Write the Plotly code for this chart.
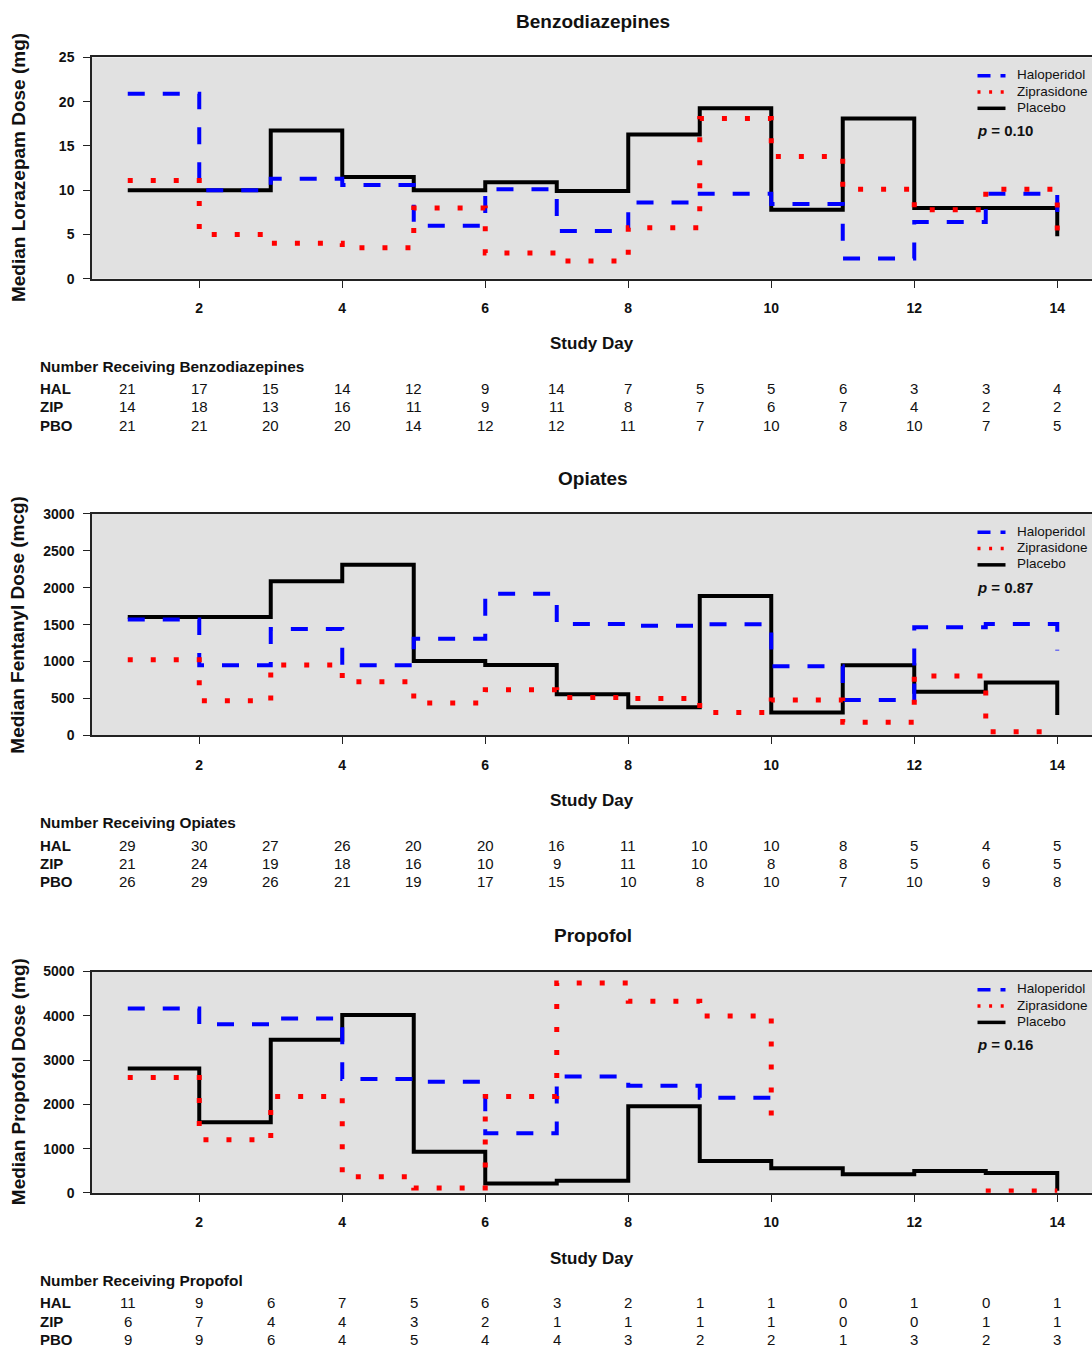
import plotly.graph_objects as go

# ---------------- data ----------------
days = list(range(1, 15))
tick_days = [2, 4, 6, 8, 10, 12, 14]

benzo_hal = [20.9, 10.0, 11.3, 10.6, 6.0, 10.1, 5.4, 8.6, 9.6, 8.45, 2.3, 6.4, 9.6, 6.0]
benzo_zip = [11.1, 5.0, 4.0, 3.5, 8.0, 2.9, 2.0, 5.75, 18.1, 13.8, 10.1, 7.8, 10.1, 5.3]
benzo_pbo = [10.0, 10.0, 16.75, 11.5, 10.0, 10.9, 9.9, 16.3, 19.25, 7.8, 18.1, 8.0, 8.0, 4.8]

opi_hal = [1570, 950, 1440, 950, 1310, 1920, 1510, 1485, 1505, 935, 478, 1463, 1507, 1150]
opi_zip = [1024, 470, 953, 725, 438, 617, 512, 500, 309, 478, 178, 805, 49, 49]
opi_pbo = [1605, 1605, 2089, 2313, 1007, 953, 555, 380, 1888, 309, 948, 590, 715, 277]

prop_hal = [4163, 3807, 3940, 2570, 2511, 1348, 2629, 2422, 2148, 2350, None, None, None, None]
prop_zip = [2607, 1200, 2178, 363, 111, 2178, 4740, 4326, 3993, 1348, None, None, 40, 40]
prop_pbo = [2807, 1593, 3459, 4015, 926, 214, 274, 1955, 718, 555, 422, 496, 451, 50]

n_benzo_hal = [21, 17, 15, 14, 12, 9, 14, 7, 5, 5, 6, 3, 3, 4]
n_benzo_zip = [14, 18, 13, 16, 11, 9, 11, 8, 7, 6, 7, 4, 2, 2]
n_benzo_pbo = [21, 21, 20, 20, 14, 12, 12, 11, 7, 10, 8, 10, 7, 5]

n_opi_hal = [29, 30, 27, 26, 20, 20, 16, 11, 10, 10, 8, 5, 4, 5]
n_opi_zip = [21, 24, 19, 18, 16, 10, 9, 11, 10, 8, 8, 5, 6, 5]
n_opi_pbo = [26, 29, 26, 21, 19, 17, 15, 10, 8, 10, 7, 10, 9, 8]

n_prop_hal = [11, 9, 6, 7, 5, 6, 3, 2, 1, 1, 0, 1, 0, 1]
n_prop_zip = [6, 7, 4, 4, 3, 2, 1, 1, 1, 1, 0, 0, 1, 1]
n_prop_pbo = [9, 9, 6, 4, 5, 4, 4, 3, 2, 2, 1, 3, 2, 3]

group_names = ["Haloperidol", "Ziprasidone", "Placebo"]
row_labels = ["HAL", "ZIP", "PBO"]
p_values = ["0.10", "0.87", "0.16"]

# ---------------- layout geometry ----------------
W, H = 1092, 1357
FONT = "Liberation Sans, Arial, sans-serif"


def py(px):
    return 1 - px / H


def pxx(px):
    return px / W


panels = [
    dict(title="Benzodiazepines", top=50, bot=274, ylabel="Median Lorazepam Dose (mg)",
         yrange=[0, 25], dtick=5, series=[benzo_hal, benzo_zip, benzo_pbo],
         counts=[n_benzo_hal, n_benzo_zip, n_benzo_pbo], drug="Benzodiazepines", p=p_values[0]),
    dict(title="Opiates", top=512, bot=736, ylabel="Median Fentanyl Dose (mcg)",
         yrange=[0, 3000], dtick=500, series=[opi_hal, opi_zip, opi_pbo],
         counts=[n_opi_hal, n_opi_zip, n_opi_pbo], drug="Opiates", p=p_values[1]),
    dict(title="Propofol", top=975, bot=1199, ylabel="Median Propofol Dose (mg)",
         yrange=[0, 5000], dtick=1000, series=[prop_hal, prop_zip, prop_pbo],
         counts=[n_prop_hal, n_prop_zip, n_prop_pbo], drug="Propofol", p=p_values[2]),
]

styles = [
    dict(color="#0000FF", width=4, dash="17px,18px"),
    dict(color="#FF0000", width=5, dash="5px,18px"),
    dict(color="#000000", width=4, dash="solid"),
]
legend_styles = [
    dict(color="#0000FF", width=3.5, dash="13px,10px"),
    dict(color="#FF0000", width=3.5, dash="3px,8.6px"),
    dict(color="#000000", width=3.5, dash="solid"),
]
draw_order = [2, 0, 1]  # placebo underneath, ziprasidone on top

fig = go.Figure()
annotations = []
shapes = []
layout = {}
x_left_px = 92
xdom = [x_left_px / W, 1.0]
xrange = [0.5, 0.5 + (W - x_left_px) / 71.5]

for i, pnl in enumerate(panels):
    k = "" if i == 0 else str(i + 1)
    xa, ya = "x" + k, "y" + k
    for j in draw_order:
        fig.add_trace(go.Scatter(
            x=days, y=pnl["series"][j], mode="lines", name=group_names[j],
            line=dict(shape="hv", **styles[j]), connectgaps=False,
            xaxis=xa, yaxis=ya, showlegend=False, hoverinfo="skip"))

    layout["xaxis" + k] = dict(
        domain=xdom, range=xrange, anchor=ya, tickvals=tick_days,
        ticks="outside", ticklen=7, tickwidth=1.3, tickcolor="#222",
        showline=True, mirror=True, linecolor="#222", linewidth=1.5,
        showgrid=False, zeroline=False, ticklabelstandoff=9,
        tickfont=dict(family=FONT, size=14, color="#111", weight="bold"))
    layout["yaxis" + k] = dict(
        domain=[py(pnl["bot"]), py(pnl["top"])], range=pnl["yrange"], anchor=xa,
        dtick=pnl["dtick"], tick0=0, ticks="outside", ticklen=7, tickwidth=1.3,
        tickcolor="#222", showline=True, mirror=False, linecolor="#222", linewidth=1.5,
        showgrid=False, zeroline=False, ticklabelstandoff=6,
        tickfont=dict(family=FONT, size=14, color="#111", weight="bold"))

    # legend (drawn inside the plot, top right)
    leg_y = [pnl["top"] + 17.5, pnl["top"] + 34, pnl["top"] + 50.5]
    for j in range(3):
        shapes.append(dict(type="line", xref="paper", yref="paper",
                           x0=pxx(977.5), x1=pxx(1005.5), y0=py(leg_y[j] + 1), y1=py(leg_y[j] + 1),
                           line=legend_styles[j]))
        annotations.append(dict(text=group_names[j], x=pxx(1015), y=py(leg_y[j]),
                                xref="paper", yref="paper", showarrow=False, xanchor="left",
                                yanchor="middle", font=dict(family=FONT, size=13.5, color="#111")))

    annotations.append(dict(text="<b>%s</b>" % pnl["title"], x=pxx(593), y=py(pnl["top"] - 36),
                            xref="paper", yref="paper", showarrow=False, xanchor="center",
                            yanchor="middle", font=dict(family=FONT, size=19, color="#111")))
    annotations.append(dict(text="<b>Study Day</b>", x=pxx(592), y=py(pnl["bot"] + 66),
                            xref="paper", yref="paper", showarrow=False, xanchor="center",
                            yanchor="middle", font=dict(family=FONT, size=17, color="#111")))
    annotations.append(dict(text="<b>%s</b>" % pnl["ylabel"], x=pxx(18),
                            y=py((pnl["top"] + pnl["bot"]) / 2), xref="paper", yref="paper",
                            showarrow=False, textangle=-90, xanchor="center", yanchor="middle",
                            font=dict(family=FONT, size=19, color="#111")))
    annotations.append(dict(text="<b><i>p</i> = %s</b>" % pnl["p"], x=pxx(975),
                            y=py(pnl["top"] + 74), xref="paper", yref="paper", showarrow=False,
                            xanchor="left", yanchor="middle",
                            font=dict(family=FONT, size=15, color="#111")))
    annotations.append(dict(text="<b>Number Receiving %s</b>" % pnl["drug"], x=pxx(38),
                            y=py(pnl["bot"] + 88.5), xref="paper", yref="paper", showarrow=False,
                            xanchor="left", yanchor="middle",
                            font=dict(family=FONT, size=15.4, color="#111")))
    row_y = [pnl["bot"] + 111, pnl["bot"] + 129.7, pnl["bot"] + 148.3]
    for r in range(3):
        annotations.append(dict(text="<b>%s</b>" % row_labels[r], x=pxx(38), y=py(row_y[r]),
                                xref="paper", yref="paper", showarrow=False, xanchor="left",
                                yanchor="middle", font=dict(family=FONT, size=15, color="#111")))
        for d, n in zip(days, pnl["counts"][r]):
            annotations.append(dict(text=str(n), x=d, y=py(row_y[r]), xref=xa, yref="paper",
                                    showarrow=False, xanchor="center", yanchor="middle",
                                    font=dict(family=FONT, size=15, color="#111")))

fig.update_layout(
    width=W, height=H, margin=dict(l=0, r=0, t=0, b=0),
    paper_bgcolor="white", plot_bgcolor="#E1E1E1", showlegend=False,
    annotations=annotations, shapes=shapes, **layout)

fig.write_html("out.html", config={"displayModeBar": False},
               post_script="document.body.style.margin='0';document.body.style.padding='0';")
